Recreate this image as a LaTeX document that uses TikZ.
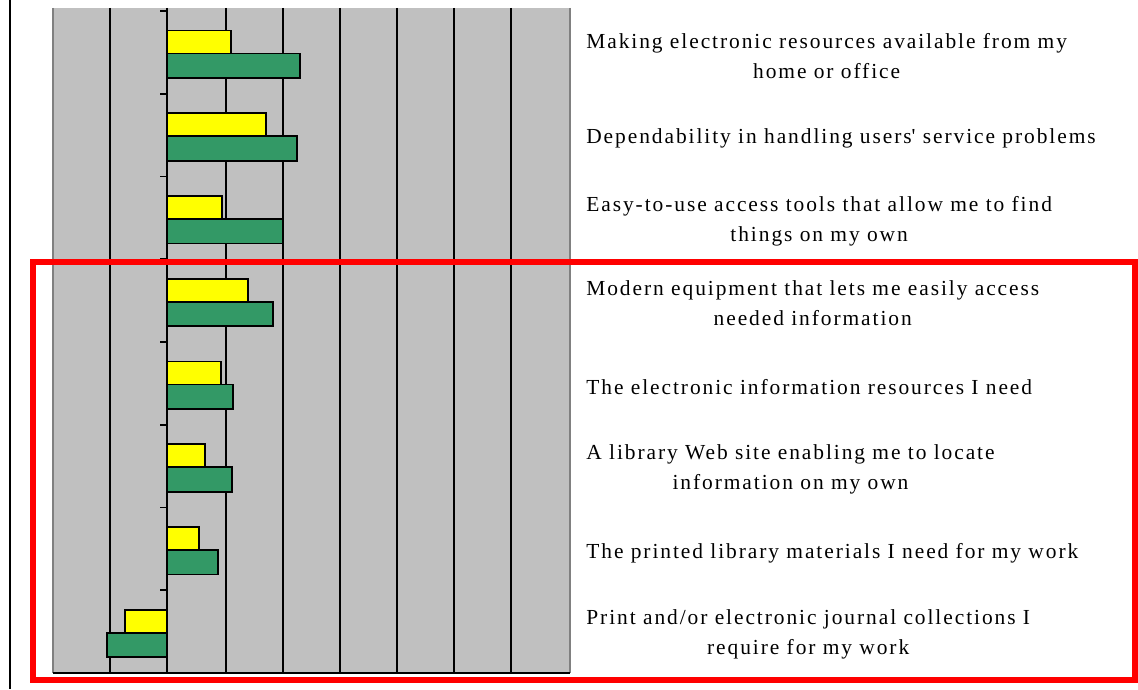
\documentclass[tikz,border=0pt]{standalone}
\usepackage{fontspec}
\setmainfont{Liberation Serif}[LetterSpace=9]
\definecolor{chartgray}{HTML}{C0C0C0}
\definecolor{baryellow}{HTML}{FFFF00}
\definecolor{bargreen}{HTML}{339966}
\begin{document}
\begin{tikzpicture}[x=0.02cm,y=-0.02cm,
  bar/.style={draw=black,line width=1.1pt},
  grid/.style={black,line width=1.1pt},
  lbl/.style={anchor=west,align=center,inner sep=0pt,font=\fontsize{12.2}{17}\selectfont}]
\useasboundingbox (0,0) rectangle (1138,689);
\draw[line width=1.1pt] (10,0)--(10,689);
\fill[chartgray] (53,8) rectangle (570,673);
\draw[gray,line width=0.8pt] (53,8)--(53,673) (570,8)--(570,673);
\foreach \x in {110,167,226,283,340,397,454,511} \draw[grid] (\x,8)--(\x,673);
\foreach \k in {0,...,7} \draw[grid] (160,{11+82.75*\k})--(167,{11+82.75*\k});
\draw[grid] (53,673)--(570,673);
\foreach \k/\a/\b in {0/1.12/2.33,1/1.73/2.27,2/0.96/2.03,3/1.42/1.85,4/0.94/1.15,5/0.67/1.14,6/0.56/0.89,7/-0.73/-1.05} {
  \draw[bar,fill=baryellow] (167,{11+82.75*\k+19.5}) rectangle ({167+57.2*\a},{11+82.75*\k+42.5});
  \draw[bar,fill=bargreen] (167,{11+82.75*\k+42.5}) rectangle ({167+57.2*\b},{11+82.75*\k+67});
}
\node[lbl] (making) at (586,56) {Making electronic resources available from my\\home or office};
\node[lbl] (depend) at (586,138) {Dependability in handling users\textquotesingle{} service problems};
\node[lbl] (easy) at (586,221) {Easy-to-use access tools that allow me to find\\things on my own};
\node[lbl] (modern) at (586,303) {Modern equipment that lets me easily access\\needed information};
\node[lbl] (eres) at (586,387) {The electronic information resources I need};
\node[lbl] (web) at (586,469) {A library Web site enabling me to locate\\information on my own};
\node[lbl] (printed) at (586,553) {The printed library materials I need for my work};
\node[lbl] (journal) at (586,634) {Print and/or electronic journal collections I\\require for my work};
\draw[red,line width=3.4pt] (33,262) rectangle (1135,680);
\end{tikzpicture}
\end{document}
